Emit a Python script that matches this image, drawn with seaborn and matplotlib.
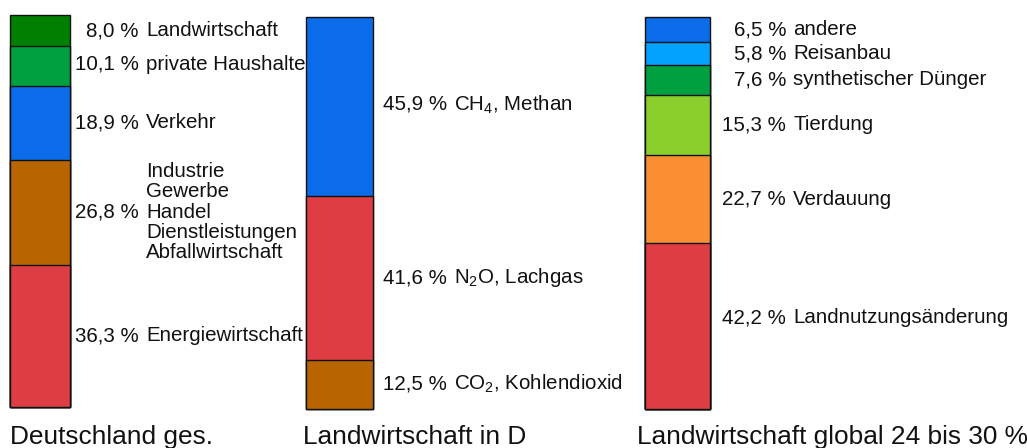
import matplotlib
matplotlib.use("Agg")
import matplotlib.pyplot as plt
import matplotlib.transforms as mtransforms
import pandas as pd
import seaborn as sns

# Data: shares in percent, listed from the bottom of each bar upwards
de_labels = ["Energiewirtschaft",
             "Industrie\nGewerbe\nHandel\nDienstleistungen\nAbfallwirtschaft",
             "Verkehr", "private Haushalte", "Landwirtschaft"]
de_values = [36.3, 26.8, 18.9, 10.1, 8.0]
de_colors = ["#DE3D43", "#B86500", "#0B6CE9", "#00A041", "#008000"]

ld_labels = [r"CO$_\mathregular{2}$, Kohlendioxid",
             r"N$_\mathregular{2}$O, Lachgas",
             r"CH$_\mathregular{4}$, Methan"]
ld_values = [12.5, 41.6, 45.9]
ld_colors = ["#B86500", "#DE3D43", "#0B6CE9"]

lg_labels = ["Landnutzungsänderung", "Verdauung", "Tierdung",
             "synthetischer Dünger", "Reisanbau", "andere"]
lg_values = [42.2, 22.7, 15.3, 7.6, 5.8, 6.5]
lg_colors = ["#DE3D43", "#F98E33", "#8ACF2C", "#00A041", "#03A2FF", "#0B6CE9"]

titles = ["Deutschland ges.", "Landwirtschaft in D",
          "Landwirtschaft global 24 bis 30 %"]

sns.set_style("white")
plt.rcParams["font.family"] = ["Liberation Sans", "DejaVu Sans"]
plt.rcParams["mathtext.fontset"] = "custom"
plt.rcParams["mathtext.rm"] = "Liberation Sans"
plt.rcParams["mathtext.it"] = "Liberation Sans:italic"

W, H = 1027, 448
fig = plt.figure(figsize=(W / 100, H / 100), dpi=100)

# bar rectangles in pixels (left, top, right, bottom), label column x, title x,
# and vertical nudges (pixels, upwards) for individual labels
layout = [
    dict(rect=(9.5, 15.0, 70.0, 406.5), name_x=146, title_x=10,
         nudge={3: 2}),
    dict(rect=(306.0, 16.5, 372.5, 408.5), name_x=454, title_x=303,
         nudge={2: 2}),
    dict(rect=(645.0, 17.0, 709.5, 408.5), name_x=793, title_x=637,
         nudge={0: 8}),
]
groups = [(de_labels, de_values, de_colors),
          (ld_labels, ld_values, ld_colors),
          (lg_labels, lg_values, lg_colors)]

fs = 14.8
for (labels, values, colors), lay, title in zip(groups, layout, titles):
    l, t, r, b = lay["rect"]
    ax = fig.add_axes([l / W, 1 - b / H, (r - l) / W, (b - t) / H])
    df = pd.DataFrame({"part": labels, "value": values, "color": colors})
    df["top"] = df["value"].cumsum()
    df["mid"] = df["top"] - df["value"] / 2
    total = df["top"].iloc[-1]
    # stacked bar: draw cumulative heights from the tallest down
    for _, row in df.iloc[::-1].iterrows():
        sns.barplot(x=["bar"], y=[row["top"]], color=row["color"], width=1,
                    saturation=1, edgecolor="#111111", linewidth=1.0,
                    errorbar=None, ax=ax)
    for p in ax.patches:
        p.set_clip_on(False)
    ax.set_xlim(-0.5, 0.5)
    ax.set_ylim(0, total)
    ax.axis("off")

    trans = mtransforms.blended_transform_factory(fig.dpi_scale_trans, ax.transData)
    nx = lay["name_x"] / 100
    for i, row in df.iterrows():
        dy = lay["nudge"].get(i, 0)
        txt_trans = trans + mtransforms.ScaledTranslation(0, dy / 100, fig.dpi_scale_trans)
        num = f"{row['value']:.1f}".replace(".", ",") + " %"
        ax.text(nx - 0.07, row["mid"], num, transform=txt_trans, ha="right",
                va="center", fontsize=fs, color="#111111")
        ax.text(nx, row["mid"], row["part"], transform=txt_trans, ha="left",
                va="center", fontsize=fs, color="#111111", linespacing=1.08)

    fig.text(lay["title_x"] / W, 1 - 444 / H, title, ha="left", va="baseline",
             fontsize=18.9, color="#111111")

fig.savefig("out.png", dpi=100)
